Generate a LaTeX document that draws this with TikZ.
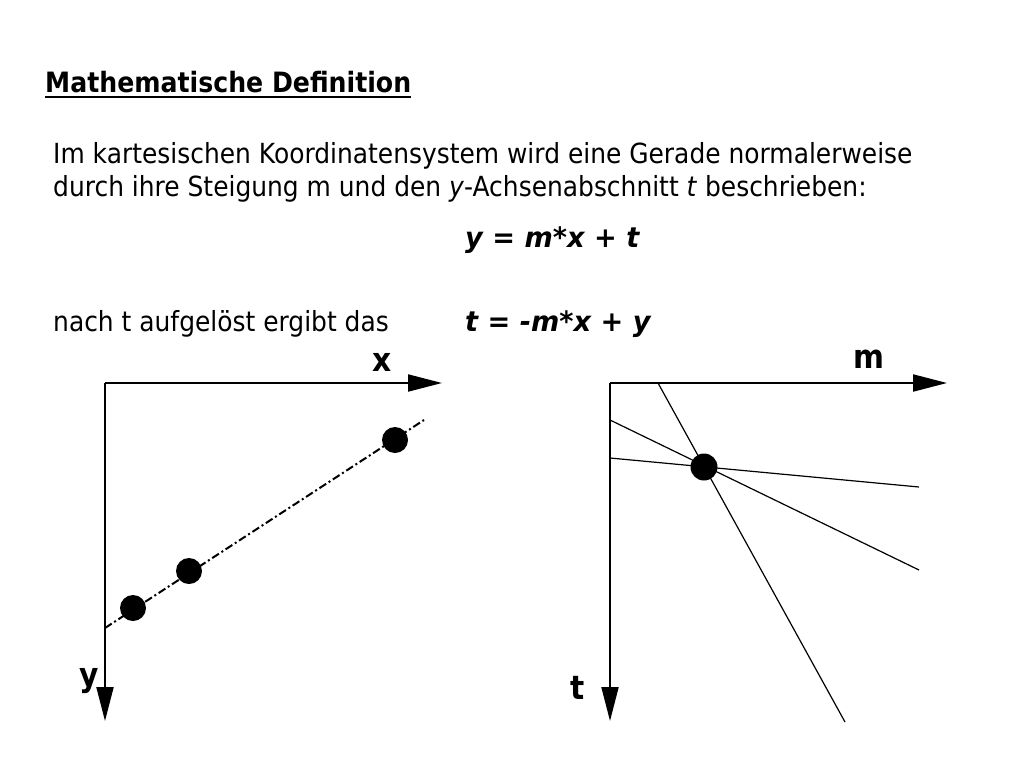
\documentclass[tikz,border=0pt]{standalone}
\usepackage{fontspec}
\setmainfont[FakeStretch=0.9]{DejaVu Sans}
\newfontfamily\eqfont[FakeStretch=0.97]{DejaVu Sans}
\usetikzlibrary{arrows.meta}
\begin{document}
\begin{tikzpicture}[x=1pt,y=-1pt,
  txt/.style={anchor=base west,inner sep=0pt,font=\fontsize{27.7}{33}\selectfont},
  eqn/.style={anchor=base west,inner sep=0pt,font=\eqfont\fontsize{28}{33}\selectfont\bfseries\itshape},
  axis/.style={line width=2pt,-{Triangle[length=34pt,width=17pt]}},
  lbl/.style={inner sep=0pt,font=\fontsize{33}{35}\selectfont\bfseries},
  dot/.style={circle,fill=black,inner sep=0pt,minimum size=26pt},
  thin/.style={line width=1.2pt}]
\useasboundingbox (0,0) rectangle (1024,768);
\node[txt,font=\fontsize{28}{33}\selectfont\bfseries] (title) at (45,92) {Mathematische Definition};
\draw[line width=2pt] ([yshift=-5pt]title.base west) -- ([yshift=-5pt]title.base east);
\node[txt] (l1) at (53,163) {Im kartesischen Koordinatensystem wird eine Gerade normalerweise};
\node[txt] (l2) at (53,196) {durch ihre Steigung m und den \textit{y}-Achsenabschnitt \textit{t} beschrieben:};
\node[eqn] (eq1) at (465,247) {y = m*x + t};
\node[txt] (l3) at (53,331) {nach t aufgelöst ergibt das};
\node[eqn] (eq2) at (465,331) {t = -m*x + y};
% left diagram
\coordinate (o1) at (105,383);
\coordinate (xe) at (442,383);
\coordinate (ye) at (105,721);
\draw[axis] (o1) -- (xe);
\draw[axis] (o1) -- (ye);
\node[lbl] (xl) at (382,362) {x};
\node[lbl] (yl) at (89,681) {y};
\coordinate (ls) at (105,628);
\coordinate (le) at (424,420);
\draw[line width=2pt,dash pattern=on 8pt off 3pt on 2pt off 3pt] (ls) -- (le);
\node[dot] (d1) at (133,608) {};
\node[dot] (d2) at (189,571) {};
\node[dot] (d3) at (395,440) {};
% right diagram
\coordinate (o2) at (610,383);
\coordinate (me) at (947,383);
\coordinate (te) at (610,721);
\draw[axis] (o2) -- (me);
\draw[axis] (o2) -- (te);
\node[lbl] (ml) at (869,359) {m};
\node[lbl] (tl) at (578,688) {t};
\coordinate (a1) at (658,383);
\coordinate (b1) at (845,722);
\coordinate (a2) at (610,420);
\coordinate (b2) at (919,570);
\coordinate (a3) at (610,458);
\coordinate (b3) at (919,487);
\draw[thin] (a1) -- (b1);
\draw[thin] (a2) -- (b2);
\draw[thin] (a3) -- (b3);
\node[dot,minimum size=27pt] (d4) at (704,467) {};
\end{tikzpicture}
\end{document}
